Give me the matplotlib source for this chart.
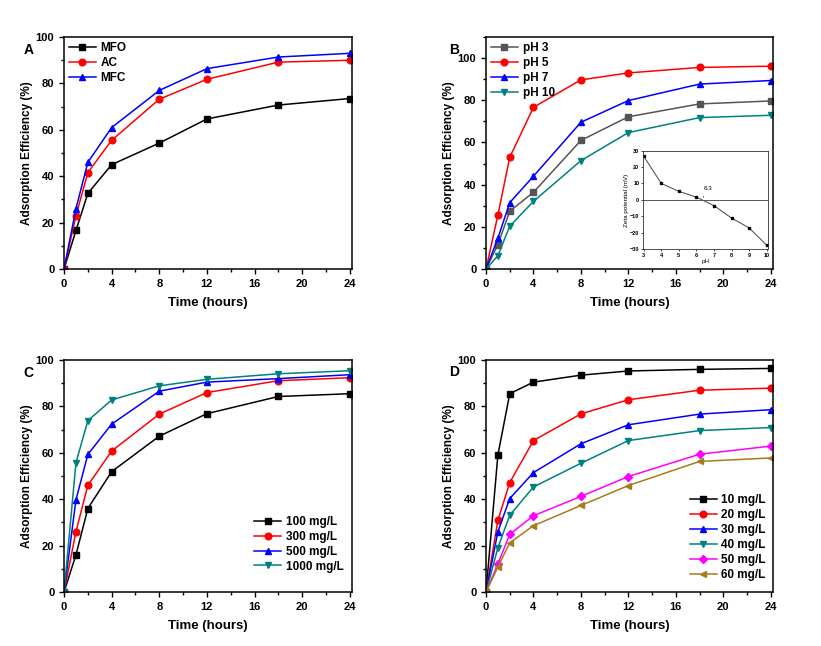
import matplotlib
matplotlib.use("Agg")
import matplotlib.pyplot as plt
from matplotlib.ticker import MultipleLocator

plt.rcParams['font.family'] = ['Liberation Sans', 'DejaVu Sans']
plt.rcParams['font.weight'] = 'bold'

# tiempos comunes
t = [0, 1, 2, 4, 8, 12, 18, 24]

# Panel A: materiales
a_labels = ["MFO", "AC", "MFC"]
a_mfo = [0, 16.6, 32.6, 45.0, 54.3, 64.7, 70.7, 73.5]
a_ac = [0, 23.0, 41.6, 55.5, 73.2, 81.8, 89.2, 90.0]
a_mfc = [0, 26.0, 46.0, 61.0, 77.0, 86.4, 91.4, 93.0]

# Panel B: pH
b_labels = ["pH 3", "pH 5", "pH 7", "pH 10"]
b_ph3 = [0, 11.6, 27.4, 36.4, 61.0, 72.2, 78.3, 79.7]
b_ph5 = [0, 25.6, 53.0, 76.7, 89.7, 93.0, 95.6, 96.2]
b_ph7 = [0, 14.6, 31.5, 44.0, 69.6, 79.9, 87.7, 89.4]
b_ph10 = [0, 6.3, 20.3, 32.1, 51.4, 64.7, 71.8, 72.9]

# inset: potencial zeta
z_ph = [3, 4, 5, 6, 7, 8, 9, 10]
z_mv = [26.5, 10.0, 5.2, 1.7, -3.5, -11.0, -17.0, -27.5]
z_pzc = 6.3

# Panel C: dosis
c_labels = ["100 mg/L", "300 mg/L", "500 mg/L", "1000 mg/L"]
c_100 = [0, 16.0, 36.0, 51.9, 67.2, 76.9, 84.3, 85.5]
c_300 = [0, 26.0, 46.0, 60.8, 76.7, 86.0, 91.1, 92.4]
c_500 = [0, 39.7, 59.3, 72.4, 86.6, 90.5, 92.0, 93.7]
c_1000 = [0, 55.7, 73.9, 82.8, 88.9, 91.7, 94.1, 95.4]

# Panel D: concentracion inicial
d_labels = ["10 mg/L", "20 mg/L", "30 mg/L", "40 mg/L", "50 mg/L", "60 mg/L"]
d_10 = [0, 59.1, 85.5, 90.5, 93.5, 95.3, 96.0, 96.4]
d_20 = [0, 30.9, 47.2, 65.3, 76.8, 82.9, 87.0, 87.9]
d_30 = [0, 26.0, 40.3, 51.5, 63.9, 72.1, 76.7, 78.6]
d_40 = [0, 19.1, 33.1, 45.3, 55.5, 65.3, 69.6, 70.9]
d_50 = [0, 12.1, 24.9, 32.9, 41.2, 49.8, 59.4, 62.9]
d_60 = [0, 10.8, 21.2, 28.6, 37.3, 45.9, 56.3, 57.8]

estilos = [("black", "s"), ("red", "o"), ("blue", "^"), ("#008080", "v"),
           ("#FF00FF", "D"), ("#A57D1B", "<")]

fig = plt.figure(figsize=(8.21, 6.46), dpi=100)
w, h = 0.351, 0.359
axA = fig.add_axes([0.078, 0.5836, w, h])
axB = fig.add_axes([0.592, 0.5836, 0.3496, h])
axC = fig.add_axes([0.078, 0.0836, w, h])
axD = fig.add_axes([0.592, 0.0836, 0.3496, h])


def dibuja(ax, series, etiquetas, colores=None):
    for i, (y, lab) in enumerate(zip(series, etiquetas)):
        c, m = estilos[i]
        if colores is not None:
            c = colores[i]
        ms = 4.2 if m in ("s", "D") else 4.8
        ax.plot(t, y, color=c, marker=m, ms=ms, lw=1.1, label=lab)
    ax.set_xlim(0, 24.2)
    ax.xaxis.set_major_locator(MultipleLocator(4))
    ax.xaxis.set_minor_locator(MultipleLocator(2))
    ax.yaxis.set_major_locator(MultipleLocator(20))
    ax.yaxis.set_minor_locator(MultipleLocator(10))
    ax.tick_params(which="both", direction="out", top=False, right=False,
                   labelsize=8, width=1)
    ax.tick_params(which="major", length=3.5)
    ax.tick_params(which="minor", length=2)
    for s in ax.spines.values():
        s.set_linewidth(1.1)
    ax.set_xlabel("Time (hours)", fontsize=9.5, fontweight="bold", labelpad=6)
    ax.set_ylabel("Adsorption Efficiency (%)", fontsize=8.5, fontweight="bold", labelpad=2)


dibuja(axA, [a_mfo, a_ac, a_mfc], a_labels)
axA.set_ylim(0, 100)
axA.legend(loc="upper left", frameon=False, fontsize=8.5, handlelength=2.3,
           labelspacing=0.25, borderaxespad=0.1, handletextpad=0.4, borderpad=0.3)

dibuja(axB, [b_ph3, b_ph5, b_ph7, b_ph10], b_labels,
       colores=["#555555", "red", "blue", "#008080"])
axB.set_ylim(0, 110)
axB.legend(loc="upper left", frameon=False, fontsize=8.5, handlelength=2.3,
           labelspacing=0.25, borderaxespad=0.1, handletextpad=0.4, borderpad=0.3)

dibuja(axC, [c_100, c_300, c_500, c_1000], c_labels)
axC.set_ylim(0, 100)
axC.legend(loc="lower right", bbox_to_anchor=(0.995, 0.053), frameon=False,
           fontsize=8.5, handlelength=2.3, labelspacing=0.25, handletextpad=0.4,
           borderaxespad=0.2)

dibuja(axD, [d_10, d_20, d_30, d_40, d_50, d_60], d_labels)
axD.set_ylim(0, 100)
axD.legend(loc="lower right", bbox_to_anchor=(1.0, 0.017), frameon=False,
           fontsize=8.5, handlelength=2.3, labelspacing=0.25, handletextpad=0.4,
           borderaxespad=0.2)

# inset potencial zeta
axI = fig.add_axes([0.783, 0.614, 0.152, 0.153])
axI.plot(z_ph, z_mv, color="#444444", marker="s", ms=1.6, mfc="black", mec="black", lw=0.7)
axI.axhline(0, color="#555555", lw=0.7)
axI.set_xlim(2.95, 10.05)
axI.set_ylim(-30, 30)
axI.set_xticks(z_ph)
axI.set_yticks([-30, -20, -10, 0, 10, 20, 30])
axI.tick_params(labelsize=4, length=1.5, width=0.5, pad=1)
for s in axI.spines.values():
    s.set_linewidth(0.6)
    s.set_color("#333333")
axI.set_xlabel("pH", fontsize=4.5, fontweight="normal", labelpad=0.5)
axI.set_ylabel("Zeta potential (mV)", fontsize=4.5, fontweight="normal", labelpad=0.5)
axI.annotate(f"{z_pzc}", xy=(z_pzc, 0), xytext=(6.4, 6), fontsize=4.5,
             fontweight="normal",
             arrowprops=dict(arrowstyle="-", lw=0.5, color="#333333"))

# etiquetas de panel
fig.text(0.035, 0.923, "A", fontsize=10, fontweight="bold", ha="center", va="center")
fig.text(0.553, 0.923, "B", fontsize=10, fontweight="bold", ha="center", va="center")
fig.text(0.035, 0.423, "C", fontsize=10, fontweight="bold", ha="center", va="center")
fig.text(0.553, 0.424, "D", fontsize=10, fontweight="bold", ha="center", va="center")

fig.savefig("out.png", dpi=100)
